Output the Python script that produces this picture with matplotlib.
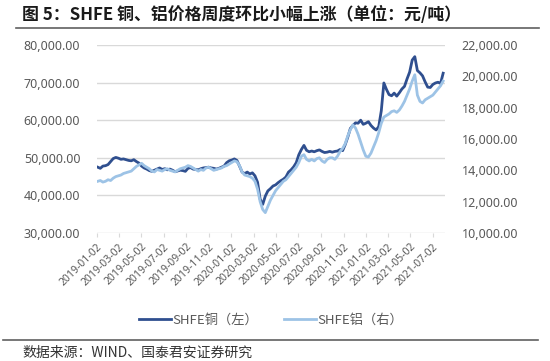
import matplotlib
matplotlib.use("Agg")
import matplotlib.pyplot as plt
import pandas as pd
from matplotlib.lines import Line2D

plt.rcParams['font.family'] = ['Noto Sans CJK SC', 'DejaVu Sans']

title = "图 5：SHFE 铜、铝价格周度环比小幅上涨（单位：元/吨）"
source = "数据来源：WIND、国泰君安证券研究"
series_names = ["SHFE铜（左）", "SHFE铝（右）"]

start_date = "2019-01-04"  # weekly (Friday) observations

copper = [
    # 2019
    47500, 47200, 47800, 47900,
    48200, 49000, 49800, 50100,
    49900, 49600, 49700, 49500, 49300,
    49200, 49500, 49000, 48600,
    47800, 47300, 47000, 46600, 46400,
    46700, 47000, 47300, 46900,
    47100, 46800, 47000, 46700,
    46300, 46500, 46700, 46600, 46400,
    47200, 47400, 47000, 46900,
    46800, 47100, 47300, 47400,
    47500, 47300, 47200, 47000, 47200,
    47500, 47800, 48700, 49200,
    # 2020
    49400, 49700, 49300, 47800, 46200,
    45800, 46200, 45700, 46000,
    45200, 43500, 39000, 37600,
    39800, 41200, 41800, 42500,
    42800, 43400, 43900, 44300, 44900,
    46200, 46800, 47600, 48700,
    50800, 52200, 53300, 52000, 51600,
    51800, 51600, 51900, 52100,
    51700, 51400, 51500, 51700,
    51500, 51700, 51800, 52200, 51900,
    53500, 55500, 57800, 58600,
    59300, 59200, 60000, 58900,
    # 2021
    59200, 59600, 58600, 57900, 57400,
    58300, 62500, 69900, 68200,
    66800, 66500, 67200, 66400,
    67300, 68300, 69000, 71000, 72800,
    76000, 76900, 73200, 72600,
    71800, 70200, 68800, 68700,
    69500, 69900, 70100, 69800, 72500,
]

aluminium = [
    # 2019
    13300, 13350, 13250, 13300,
    13400, 13350, 13500, 13600,
    13650, 13700, 13800, 13850, 13900,
    13950, 14100, 14250, 14350,
    14450, 14300, 14200, 14100, 13950,
    13900, 14050, 14000, 13950,
    14050, 14100, 14000, 13950,
    13900, 14000, 14100, 14150, 14200,
    14300, 14250, 14150, 14050,
    13950, 14050, 14000, 14150,
    14200, 14100, 14000, 14050, 14100,
    14150, 14250, 14300, 14400,
    # 2020
    14500, 14600, 14550, 14300, 13900,
    13700, 13650, 13600, 13500,
    13300, 12800, 12000, 11500,
    11300, 11700, 12100, 12400,
    12700, 12900, 13100, 13300, 13400,
    13600, 13800, 14000, 14200,
    14500, 14900, 15000, 14700, 14600,
    14700, 14600, 14750, 14800,
    14600, 14500, 14700, 14800,
    14800, 14700, 14900, 15200, 15400,
    15700, 16200, 16600, 16900,
    16700, 16300, 15800, 15300,
    # 2021
    14900, 14850, 15100, 15500, 15900,
    16400, 17000, 17400, 17500,
    17600, 17750, 17800, 17700,
    17850, 18100, 18400, 18800, 19200,
    19700, 20100, 18800, 18400,
    18300, 18500, 18600, 18700,
    18800, 19000, 19200, 19400, 19700,
]

tick_labels = ["2019-01-02", "2019-03-02", "2019-05-02", "2019-07-02", "2019-09-02",
               "2019-11-02", "2020-01-02", "2020-03-02", "2020-05-02", "2020-07-02",
               "2020-09-02", "2020-11-02", "2021-01-02", "2021-03-02", "2021-05-02",
               "2021-07-02"]
left_ticks = [30000, 40000, 50000, 60000, 70000, 80000]
right_ticks = [10000, 12000, 14000, 16000, 18000, 20000, 22000]

dates = pd.date_range(start_date, periods=len(copper), freq="W-FRI")
tick_dates = pd.to_datetime(tick_labels)

c_cu = "#2F4F8F"
c_al = "#9DC3E6"
grid_c = "#D9D9D9"
txt_c = "#595959"

fig = plt.figure(figsize=(5.5, 3.61), dpi=100)
ax = fig.add_axes([97/550, 1-233/361, (445-97)/550, (233-45)/361])
ax2 = ax.twinx()

ax.plot(dates, copper, color=c_cu, lw=2.0, solid_joinstyle='round')
ax2.plot(dates, aluminium, color=c_al, lw=2.0, solid_joinstyle='round')

ax.set_ylim(30000, 80000)
ax2.set_ylim(10000, 22000)
ax.set_yticks(left_ticks)
ax2.set_yticks(right_ticks)
ax.set_yticklabels([f"{v:,.2f}" for v in left_ticks], fontfamily="Noto Sans", fontsize=9, color=txt_c)
ax2.set_yticklabels([f"{v:,.2f}" for v in right_ticks], fontfamily="Noto Sans", fontsize=9, color=txt_c)
ax.tick_params(axis='y', length=0, pad=12)
ax2.tick_params(axis='y', length=0, pad=12)

ax.set_xlim(pd.Timestamp("2019-01-02"), pd.Timestamp("2021-08-04"))
ax.set_xticks(tick_dates)
ax.set_xticklabels(tick_labels, rotation=45, ha='right', rotation_mode='anchor',
                   fontfamily="Noto Sans", fontsize=7.5, color=txt_c)
ax.tick_params(axis='x', length=3, color=grid_c, pad=3)

ax.grid(axis='y', color=grid_c, lw=1)
ax.set_axisbelow(True)
for a in (ax, ax2):
    for s in a.spines.values():
        s.set_visible(False)

handles = [Line2D([], [], color=c_cu, lw=2.0), Line2D([], [], color=c_al, lw=2.0)]
fig.legend(handles, series_names, loc='center', bbox_to_anchor=(271/550, 1-320/361),
           ncol=2, frameon=False, fontsize=9.5, handlelength=2.4, handletextpad=0.1,
           columnspacing=2.0, labelcolor=txt_c)

fig.text(22/550, 1-15/361, title, fontsize=12.2, fontweight='bold', color="#1a1a1a",
         ha='left', va='center')
fig.add_artist(Line2D([16/550, 539/550], [1-28/361, 1-28/361], color="#606060", lw=1.2,
                      transform=fig.transFigure))
fig.add_artist(Line2D([3/550, 538/550], [1-340/361, 1-340/361], color="#606060", lw=1.2,
                      transform=fig.transFigure))
fig.text(22/550, 1-353/361, source, fontsize=10, color="#333333", ha='left', va='center')

fig.savefig("out.png", dpi=100)
